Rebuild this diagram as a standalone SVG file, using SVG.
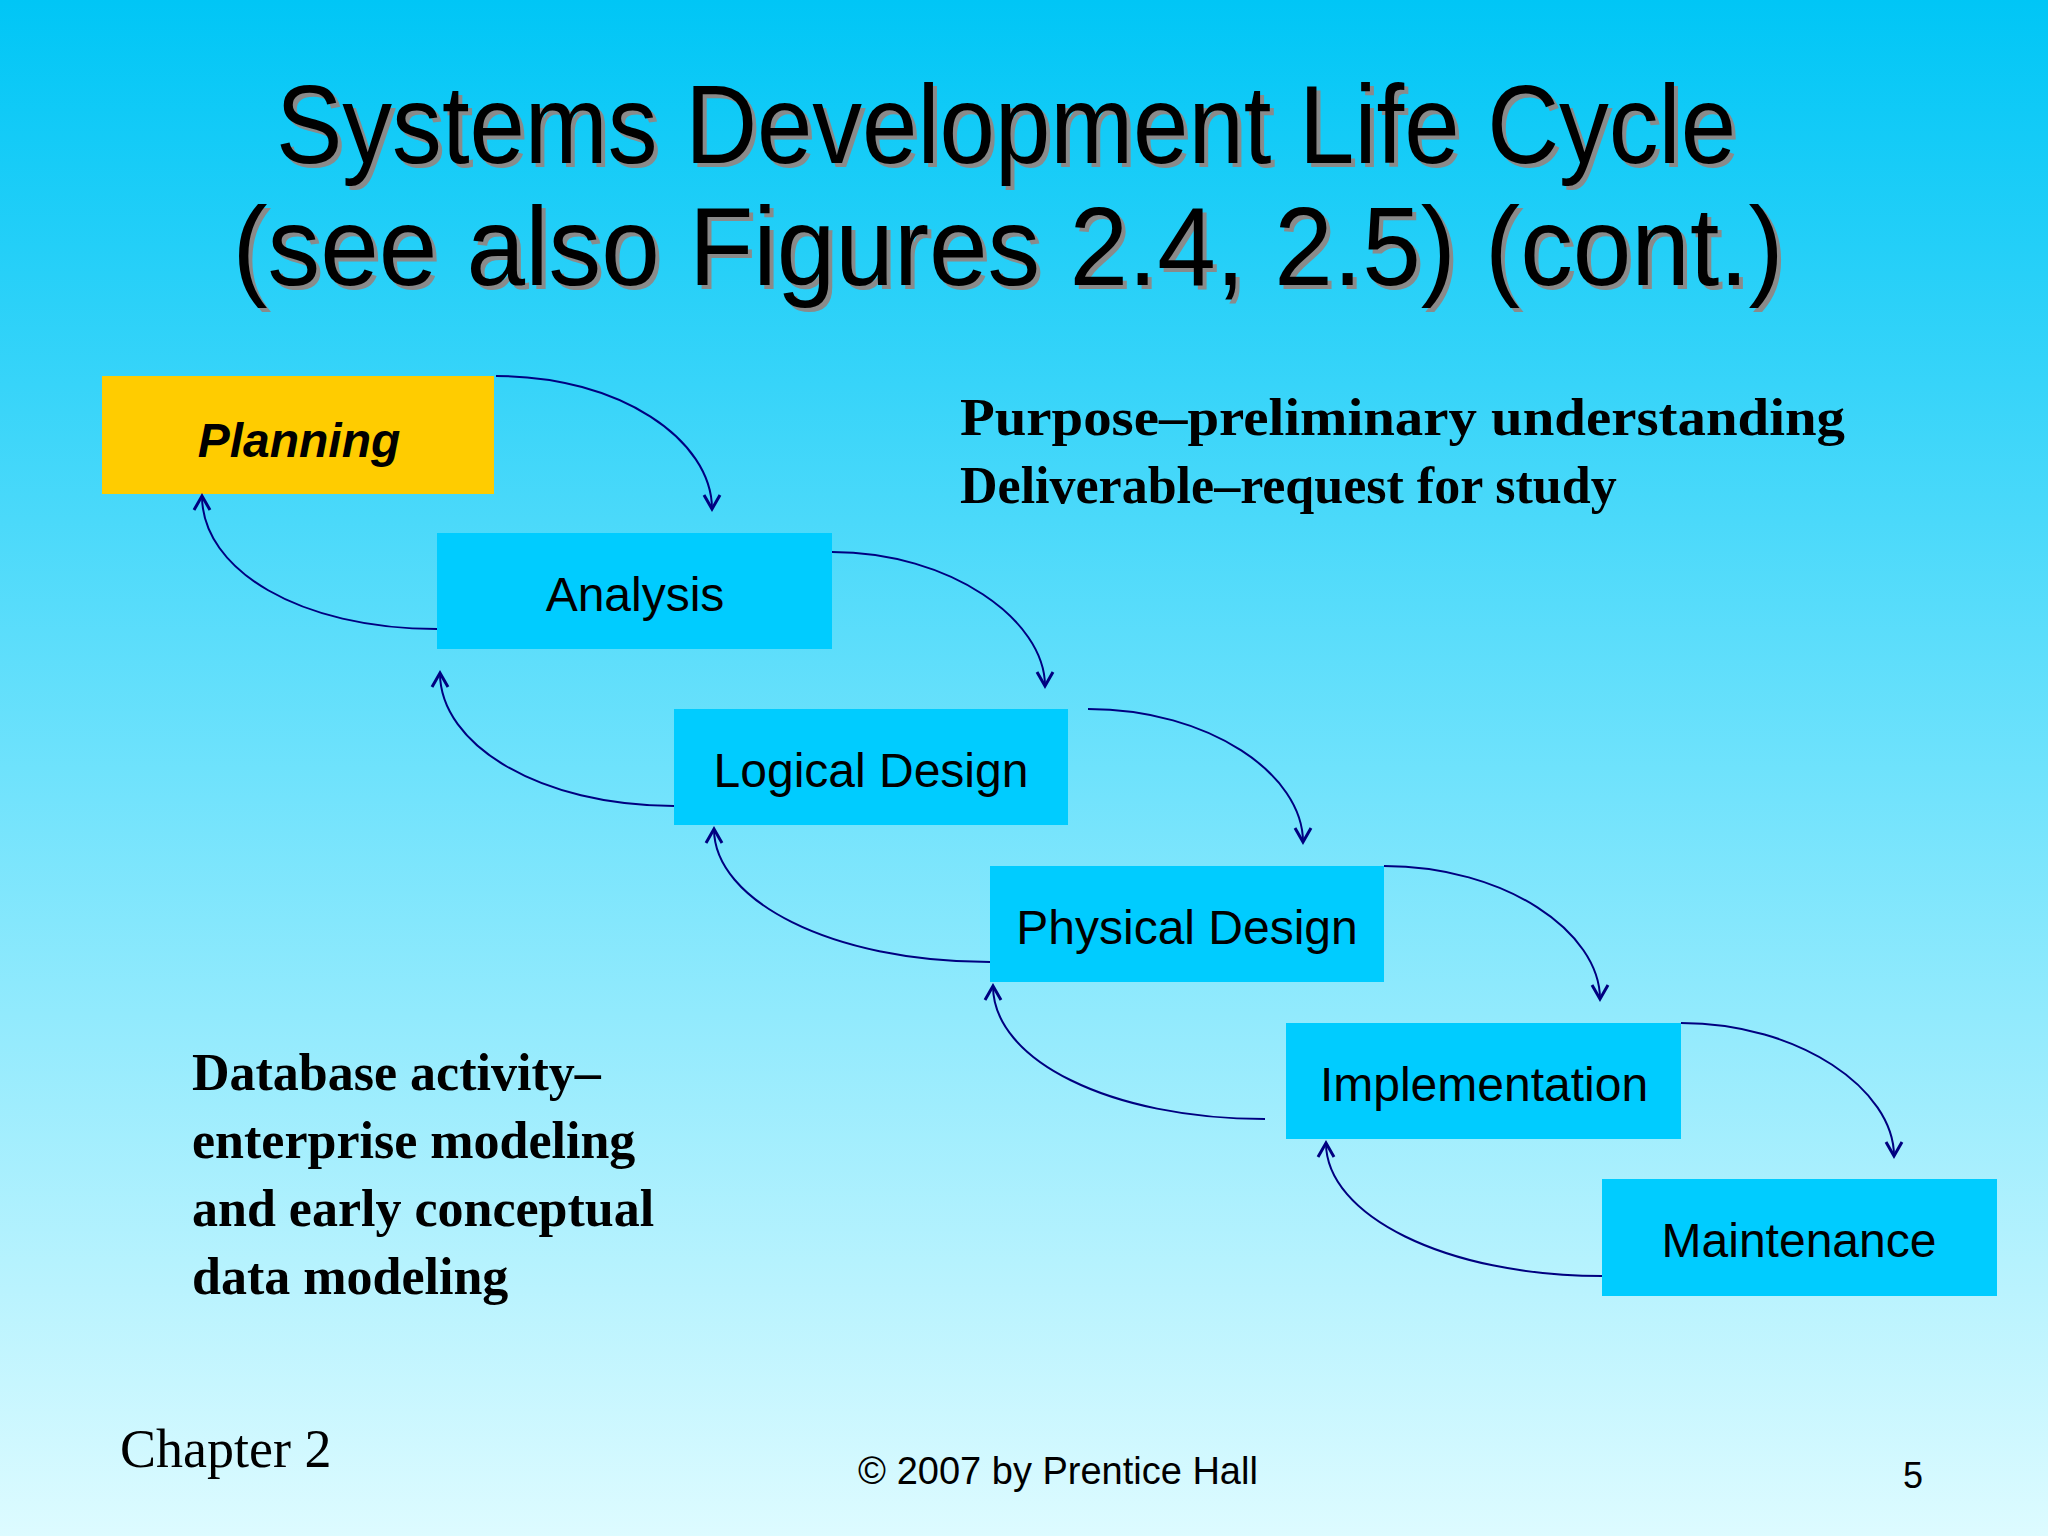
<svg xmlns="http://www.w3.org/2000/svg" width="2048" height="1536" viewBox="0 0 2048 1536">
<defs>
<linearGradient id="bg" x1="0" y1="0" x2="0" y2="1">
<stop offset="0" stop-color="#00C6F6"/>
<stop offset="0.5" stop-color="#6EE2FC"/>
<stop offset="1" stop-color="#DDFBFF"/>
</linearGradient>
<marker id="ah" viewBox="0 0 20 20" refX="16" refY="10" markerWidth="20" markerHeight="20" markerUnits="userSpaceOnUse" orient="auto">
<path d="M2,2 L16,10 L2,18" fill="none" stroke="#000080" stroke-width="3"/>
</marker>
<style>
.box{fill:#00CCFF}
.lbl{font-family:"Liberation Sans",Arial,sans-serif;font-size:48px;fill:#000;text-anchor:middle}
.c{fill:none;stroke:#000080;stroke-width:2;marker-end:url(#ah)}
.tm{font-family:"Liberation Serif","Times New Roman",serif;font-weight:bold;font-size:52px;fill:#000}
.ttl{font-family:"Liberation Sans",Arial,sans-serif;font-size:112px;text-anchor:middle}
</style>
</defs>
<rect width="2048" height="1536" fill="url(#bg)"/>
<g id="title">
<text class="ttl" x="1010" y="167" fill="#8a8a8a" textLength="1460" lengthAdjust="spacingAndGlyphs">Systems Development Life Cycle</text>
<text class="ttl" x="1006" y="163" fill="#000" textLength="1460" lengthAdjust="spacingAndGlyphs">Systems Development Life Cycle</text>
<text class="ttl" x="1012" y="289" fill="#8a8a8a" textLength="1551" lengthAdjust="spacingAndGlyphs">(see also Figures 2.4, 2.5)  (cont.)</text>
<text class="ttl" x="1008" y="285" fill="#000" textLength="1551" lengthAdjust="spacingAndGlyphs">(see also Figures 2.4, 2.5)  (cont.)</text>
</g>
<g id="planning"><rect x="102" y="376" width="392" height="118" fill="#FFCC00"/><text class="lbl" x="299" y="457" font-weight="bold" font-style="italic">Planning</text></g>
<g id="analysis"><rect class="box" x="437" y="533" width="395" height="116"/><text class="lbl" x="635" y="611">Analysis</text></g>
<g id="logical"><rect class="box" x="674" y="709" width="394" height="116"/><text class="lbl" x="871" y="787">Logical Design</text></g>
<g id="physical"><rect class="box" x="990" y="866" width="394" height="116"/><text class="lbl" x="1187" y="944">Physical Design</text></g>
<g id="implementation"><rect class="box" x="1286" y="1023" width="395" height="116"/><text class="lbl" x="1484" y="1101">Implementation</text></g>
<g id="maintenance"><rect class="box" x="1602" y="1179" width="395" height="117"/><text class="lbl" x="1799" y="1257">Maintenance</text></g>
<g id="connectors">
<path class="c" d="M496,376 C620,376 712,440 712,509"/>
<path class="c" d="M832,552 C950,552 1045,620 1045,686"/>
<path class="c" d="M1088,709 C1210,709 1303,775 1303,842"/>
<path class="c" d="M1384,866 C1505,866 1600,932 1600,999"/>
<path class="c" d="M1681,1023 C1800,1023 1894,1090 1894,1156"/>
<path class="c" d="M437,629 C300,629 202,570 202,496"/>
<path class="c" d="M674,806 C540,806 440,745 440,673"/>
<path class="c" d="M990,962 C830,962 714,900 714,829"/>
<path class="c" d="M1265,1119 C1110,1119 993,1060 993,986"/>
<path class="c" d="M1602,1276 C1445,1276 1326,1215 1326,1143"/>
</g>
<g id="notes">
<text class="tm" x="960" y="435" textLength="885" lengthAdjust="spacingAndGlyphs">Purpose–preliminary understanding</text>
<text class="tm" x="960" y="503">Deliverable–request for study</text>
<text class="tm" x="192" y="1090">Database activity–</text>
<text class="tm" x="192" y="1158">enterprise modeling</text>
<text class="tm" x="192" y="1226">and early conceptual</text>
<text class="tm" x="192" y="1294">data modeling</text>
</g>
<g id="footer">
<text x="120" y="1467" font-family="Liberation Serif,serif" font-size="54">Chapter 2</text>
<text x="1058" y="1484" font-family="Liberation Sans,Arial,sans-serif" font-size="38" text-anchor="middle">© 2007 by Prentice Hall</text>
<text x="1913" y="1488" font-family="Liberation Sans,Arial,sans-serif" font-size="36" text-anchor="middle">5</text>
</g>
</svg>
